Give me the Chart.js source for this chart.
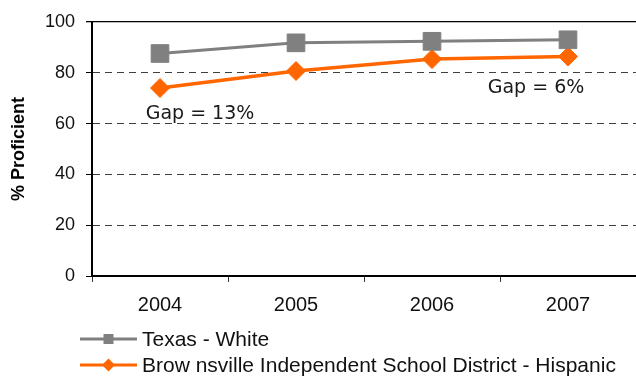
<!DOCTYPE html>
<html>
<head>
<meta charset="utf-8">
<script src="https://cdn.jsdelivr.net/npm/chart.js@4/dist/chart.umd.min.js"></script>
<style>
  html, body { margin: 0; padding: 0; background: #ffffff; }
  #wrap { width: 636px; height: 377px; }
</style>
</head>
<body>
<div id="wrap"><canvas id="c" width="636" height="377"></canvas></div>
<script>
// Years on the category axis
const years = ['2004', '2005', '2006', '2007'];
// Percent proficient per year
const texasWhite = [87.6, 91.8, 92.4, 93.0];
const brownsvilleHispanic = [74.0, 80.7, 85.4, 86.4];
// Series names
const seriesNames = ['Texas - White', 'Brow nsville Independent School District - Hispanic'];
// Y axis ticks
const yTicks = [0, 20, 40, 60, 80, 100];
// Gap notes: text, category index, value used to place the note
const gapNotes = [
  { text: 'Gap = 13%', index: 0, value: 64.5 },
  { text: 'Gap = 6%', index: 3, value: 75.0 }
];

const GRAY = '#808080';
const ORANGE = '#FF6600';

// Text notes written inside the plot area
const gapNotesPlugin = {
  id: 'gapNotes',
  afterDatasetsDraw(chart) {
    const { ctx, scales } = chart;
    ctx.save();
    ctx.font = '19px "DejaVu Sans"';
    ctx.fillStyle = '#1a1a1a';
    ctx.textAlign = 'center';
    ctx.textBaseline = 'alphabetic';
    const offsets = [40, -32];
    gapNotes.forEach((n, i) => {
      const x = scales.x.getPixelForValue(n.index) + offsets[i];
      const y = scales.y.getPixelForValue(n.value) + 7;
      ctx.fillText(n.text, x, y);
    });
    ctx.restore();
  }
};

// Legend below the chart: line sample with the series marker, then the name
const lineLegendPlugin = {
  id: 'lineLegend',
  afterDraw(chart) {
    const { ctx } = chart;
    ctx.save();
    const rows = [339, 365];
    chart.data.datasets.forEach((ds, i) => {
      const y = rows[i];
      const x0 = 80, x1 = 137, xm = (x0 + x1) / 2;
      ctx.strokeStyle = ds.borderColor;
      ctx.lineWidth = 3;
      ctx.beginPath();
      ctx.moveTo(x0, y);
      ctx.lineTo(x1, y);
      ctx.stroke();
      ctx.fillStyle = ds.borderColor;
      ctx.beginPath();
      if (ds.pointStyle === 'rect') {
        ctx.rect(xm - 5, y - 5, 10, 10);
      } else {
        ctx.moveTo(xm - 6.5, y);
        ctx.lineTo(xm, y - 6.5);
        ctx.lineTo(xm + 6.5, y);
        ctx.lineTo(xm, y + 6.5);
        ctx.closePath();
      }
      ctx.fill();
      ctx.fillStyle = '#111111';
      ctx.font = '21px "Liberation Sans", Arial, sans-serif';
      ctx.textAlign = 'left';
      ctx.textBaseline = 'middle';
      ctx.fillText(ds.label, 142, y + 1);
    });
    ctx.restore();
  }
};

new Chart(document.getElementById('c'), {
  type: 'line',
  data: {
    labels: years,
    datasets: [
      {
        label: seriesNames[0],
        data: texasWhite,
        borderColor: GRAY,
        backgroundColor: GRAY,
        borderWidth: 3,
        pointStyle: 'rect',
        pointRadius: 12.5,
        pointBorderWidth: 1,
        pointHoverRadius: 12.5,
        tension: 0
      },
      {
        label: seriesNames[1],
        data: brownsvilleHispanic,
        borderColor: ORANGE,
        backgroundColor: ORANGE,
        borderWidth: 3.5,
        pointStyle: 'rectRot',
        pointRadius: 9.5,
        pointBorderWidth: 1,
        pointHoverRadius: 9.5,
        tension: 0
      }
    ]
  },
  options: {
    responsive: false,
    animation: false,
    events: [],
    layout: { autoPadding: false, padding: { top: 22, right: 0, bottom: 0, left: 0 } },
    plugins: {
      legend: { display: false },
      tooltip: { enabled: false }
    },
    scales: {
      x: {
        offset: true,
        grid: {
          offset: true,
          drawOnChartArea: false,
          drawTicks: true,
          tickLength: 6,
          tickColor: '#333333',
          tickWidth: 1
        },
        border: { display: true, color: '#000000', width: 2 },
        ticks: {
          color: '#111111',
          font: { family: '"Liberation Sans", Arial, sans-serif', size: 20 },
          padding: 11,
          maxRotation: 0
        },
        afterFit(scale) {
          scale.height = 101;
          scale.paddingLeft = 0;
          scale.paddingRight = 0;
        }
      },
      y: {
        min: 0,
        max: 100,
        afterBuildTicks(scale) { scale.ticks = yTicks.map(v => ({ value: v })); },
        grid: {
          drawTicks: true,
          tickLength: 6,
          tickColor: '#000000',
          color(ctx) {
            if (ctx.tick && ctx.tick.value === 100) return '#000000';
            return '#404040';
          },
          lineWidth(ctx) {
            if (ctx.tick && ctx.tick.value === 100) return 1.3;
            return 1;
          }
        },
        border: {
          display: true,
          color: '#000000',
          width: 2,
          dash(ctx) {
            if (ctx.type === 'tick' && ctx.tick && ctx.tick.value > 0 && ctx.tick.value < 100) return [7, 5];
            return [];
          }
        },
        ticks: {
          color: '#111111',
          font: { family: '"Liberation Sans", Arial, sans-serif', size: 18 },
          padding: 11
        },
        title: {
          display: true,
          text: '% Proficient',
          color: '#000000',
          font: { family: '"Liberation Sans", Arial, sans-serif', size: 18, weight: 'bold' },
          padding: { top: 8, bottom: 0 }
        },
        afterFit(scale) {
          scale.width = 92;
          scale.paddingTop = 0;
          scale.paddingBottom = 0;
        }
      }
    }
  },
  plugins: [gapNotesPlugin, lineLegendPlugin]
});
</script>
</body>
</html>
